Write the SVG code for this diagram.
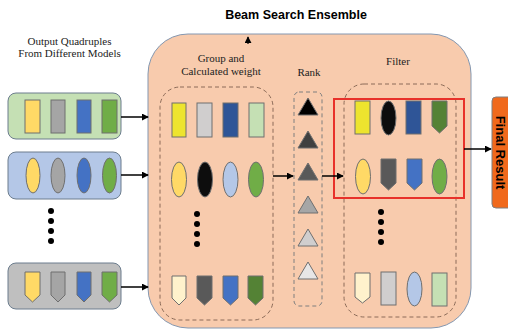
<svg xmlns="http://www.w3.org/2000/svg" width="508" height="331" viewBox="0 0 508 331">
<defs>
<marker id="ah" viewBox="0 0 8 8" refX="7" refY="4" markerWidth="7" markerHeight="7" markerUnits="userSpaceOnUse" orient="auto">
<path d="M0,0 L8,4 L0,8 z" fill="#000"/>
</marker>
<style>
.serif{font-family:"Liberation Serif","Times New Roman",serif;font-size:11px;fill:#222;text-anchor:middle}
.bold{font-family:"Liberation Sans",Arial,sans-serif;font-weight:bold;fill:#000;text-anchor:middle}
.sh{stroke:#6f6f6f;stroke-width:1}
.dash{fill:none;stroke:#8c6b58;stroke-width:1;stroke-dasharray:4,3}
.conn line{stroke:#000;stroke-width:1.5;marker-end:url(#ah)}
.dot{fill:#000}
</style>
</defs>

<text class="bold" x="296" y="19" font-size="12.5">Beam Search Ensemble</text>

<g id="input-label">
<text class="serif" x="69.5" y="45">Output Quadruples</text>
<text class="serif" x="69.5" y="57">From Different Models</text>
</g>

<g id="model1">
<rect x="8" y="93" width="113" height="46" rx="8" fill="#c5e0b4" stroke="#6c7d8e"/>
<rect class="sh" x="25" y="100" width="15" height="33" fill="#ffd966"/>
<rect class="sh" x="51" y="100" width="14" height="33" fill="#a5a5a5"/>
<rect class="sh" x="77" y="100" width="14" height="33" fill="#4472c4"/>
<rect class="sh" x="102" y="100" width="15" height="33" fill="#70ad47"/>
</g>

<g id="model2">
<rect x="8" y="152" width="113" height="47" rx="8" fill="#b4c7e7" stroke="#6c7d8e"/>
<ellipse class="sh" cx="33" cy="175.5" rx="7" ry="17.5" fill="#ffd966"/>
<ellipse class="sh" cx="58" cy="175.5" rx="7" ry="17.5" fill="#a5a5a5"/>
<ellipse class="sh" cx="84" cy="175.5" rx="7" ry="17.5" fill="#4472c4"/>
<ellipse class="sh" cx="109.5" cy="175.5" rx="7" ry="17.5" fill="#70ad47"/>
</g>

<g id="model-dots">
<circle class="dot" cx="51" cy="211" r="3"/>
<circle class="dot" cx="51" cy="221" r="3"/>
<circle class="dot" cx="51" cy="231" r="3"/>
<circle class="dot" cx="51" cy="241" r="3"/>
</g>

<g id="model3">
<rect x="8" y="263" width="113" height="46" rx="8" fill="#bfbfbf" stroke="#6c7d8e"/>
<path class="sh" d="M25,272 H40 V295 L32.5,302 L25,295 Z" fill="#ffd966"/>
<path class="sh" d="M51,272 H65 V295 L58,302 L51,295 Z" fill="#a5a5a5"/>
<path class="sh" d="M77,272 H91 V295 L84,302 L77,295 Z" fill="#4472c4"/>
<path class="sh" d="M102,272 H117 V295 L109.5,302 L102,295 Z" fill="#70ad47"/>
</g>

<g id="ensemble">
<rect x="148" y="34" width="323" height="294" rx="40" fill="#f8cbad" stroke="#8497b0"/>
<text class="serif" x="221" y="62">Group and</text>
<text class="serif" x="221" y="75">Calculated weight</text>
<text class="serif" x="309" y="76">Rank</text>
<text class="serif" x="398" y="65">Filter</text>
</g>

<g id="group">
<rect class="dash" x="160" y="87" width="113" height="233" rx="20"/>
<rect class="sh" x="172" y="103" width="14" height="34" fill="#ede42e" stroke="#8a8a30"/>
<rect class="sh" x="197" y="103" width="15" height="34" fill="#d0cece"/>
<rect class="sh" x="223" y="103" width="15" height="34" fill="#2f5597"/>
<rect class="sh" x="249" y="103" width="15" height="34" fill="#c5e0b4"/>
<ellipse class="sh" cx="179" cy="179.5" rx="7.5" ry="17.5" fill="#ffd966"/>
<ellipse class="sh" cx="205" cy="179.5" rx="7.5" ry="17.5" fill="#0d0d0d"/>
<ellipse class="sh" cx="230.5" cy="179.5" rx="7.5" ry="17.5" fill="#b4c7e7"/>
<ellipse class="sh" cx="256" cy="179.5" rx="7.5" ry="17.5" fill="#70ad47"/>
<circle class="dot" cx="197" cy="214" r="3"/>
<circle class="dot" cx="197" cy="224" r="3"/>
<circle class="dot" cx="197" cy="234" r="3"/>
<circle class="dot" cx="197" cy="244" r="3"/>
<path class="sh" d="M172,276 H186 V298 L179,305 L172,298 Z" fill="#fff2cc"/>
<path class="sh" d="M197,276 H212 V298 L204.5,305 L197,298 Z" fill="#595959"/>
<path class="sh" d="M223,276 H238 V298 L230.5,305 L223,298 Z" fill="#4472c4"/>
<path class="sh" d="M248,276 H263 V298 L255.5,305 L248,298 Z" fill="#548235"/>
</g>

<g id="rank">
<rect x="294" y="92" width="28" height="214" rx="5" fill="none" stroke="#7f7f7f" stroke-dasharray="4,3"/>
<path class="sh" d="M308,98 L318,115 L298,115 Z" fill="#000"/>
<path class="sh" d="M308,131 L318,148 L298,148 Z" fill="#404040"/>
<path class="sh" d="M308,163 L318,180 L298,180 Z" fill="#595959"/>
<path class="sh" d="M308,196 L318,213 L298,213 Z" fill="#a6a6a6"/>
<path class="sh" d="M308,229 L318,246 L298,246 Z" fill="#d0cece"/>
<path class="sh" d="M308,262 L318,279 L298,279 Z" fill="#e7e6e6"/>
</g>

<g id="filter">
<rect class="dash" x="344" y="84" width="112" height="233" rx="20"/>
<rect class="sh" x="355" y="101" width="15" height="33" fill="#ede42e" stroke="#8a8a30"/>
<ellipse class="sh" cx="388.5" cy="118" rx="7.5" ry="17" fill="#0d0d0d"/>
<rect class="sh" x="406" y="101" width="15" height="33" fill="#2f5597"/>
<path class="sh" d="M432,101 H447 V126 L439.5,133 L432,126 Z" fill="#548235"/>
<ellipse class="sh" cx="363" cy="176.5" rx="7.5" ry="17.5" fill="#ffd966"/>
<path class="sh" d="M381,159 H396 V183 L388.5,190 L381,183 Z" fill="#595959"/>
<path class="sh" d="M407,159 H422 V183 L414.5,190 L407,183 Z" fill="#4472c4"/>
<ellipse class="sh" cx="439.5" cy="176.5" rx="7.5" ry="17.5" fill="#70ad47"/>
<circle class="dot" cx="381" cy="212" r="3"/>
<circle class="dot" cx="381" cy="222" r="3"/>
<circle class="dot" cx="381" cy="232" r="3"/>
<circle class="dot" cx="381" cy="242" r="3"/>
<path class="sh" d="M355,273 H370 V297 L362.5,303 L355,297 Z" fill="#fff2cc"/>
<rect class="sh" x="381" y="272" width="15" height="33" fill="#d0cece"/>
<ellipse class="sh" cx="414.5" cy="289" rx="7.5" ry="17" fill="#b4c7e7"/>
<rect class="sh" x="432" y="273" width="15" height="33" fill="#c5e0b4"/>
<rect x="334" y="99" width="130" height="99" fill="none" stroke="#e8312a" stroke-width="2"/>
</g>

<g id="final-result">
<rect x="492" y="97" width="24" height="111" rx="4" fill="#f0691c" stroke="#7f7f7f"/>
<text class="bold" font-size="13" transform="translate(496,152.5) rotate(90)">Final Result</text>
</g>

<g class="conn" id="connectors">
<line x1="121" y1="117" x2="148" y2="117"/>
<line x1="121" y1="175" x2="148" y2="175"/>
<line x1="121" y1="287" x2="148" y2="287"/>
<line x1="273" y1="176" x2="293" y2="176"/>
<line x1="322" y1="176" x2="343" y2="176"/>
<line x1="464" y1="149" x2="491" y2="149"/>
<line x1="248" y1="44" x2="248" y2="37" style="stroke-width:1.2"/>
</g>
</svg>
